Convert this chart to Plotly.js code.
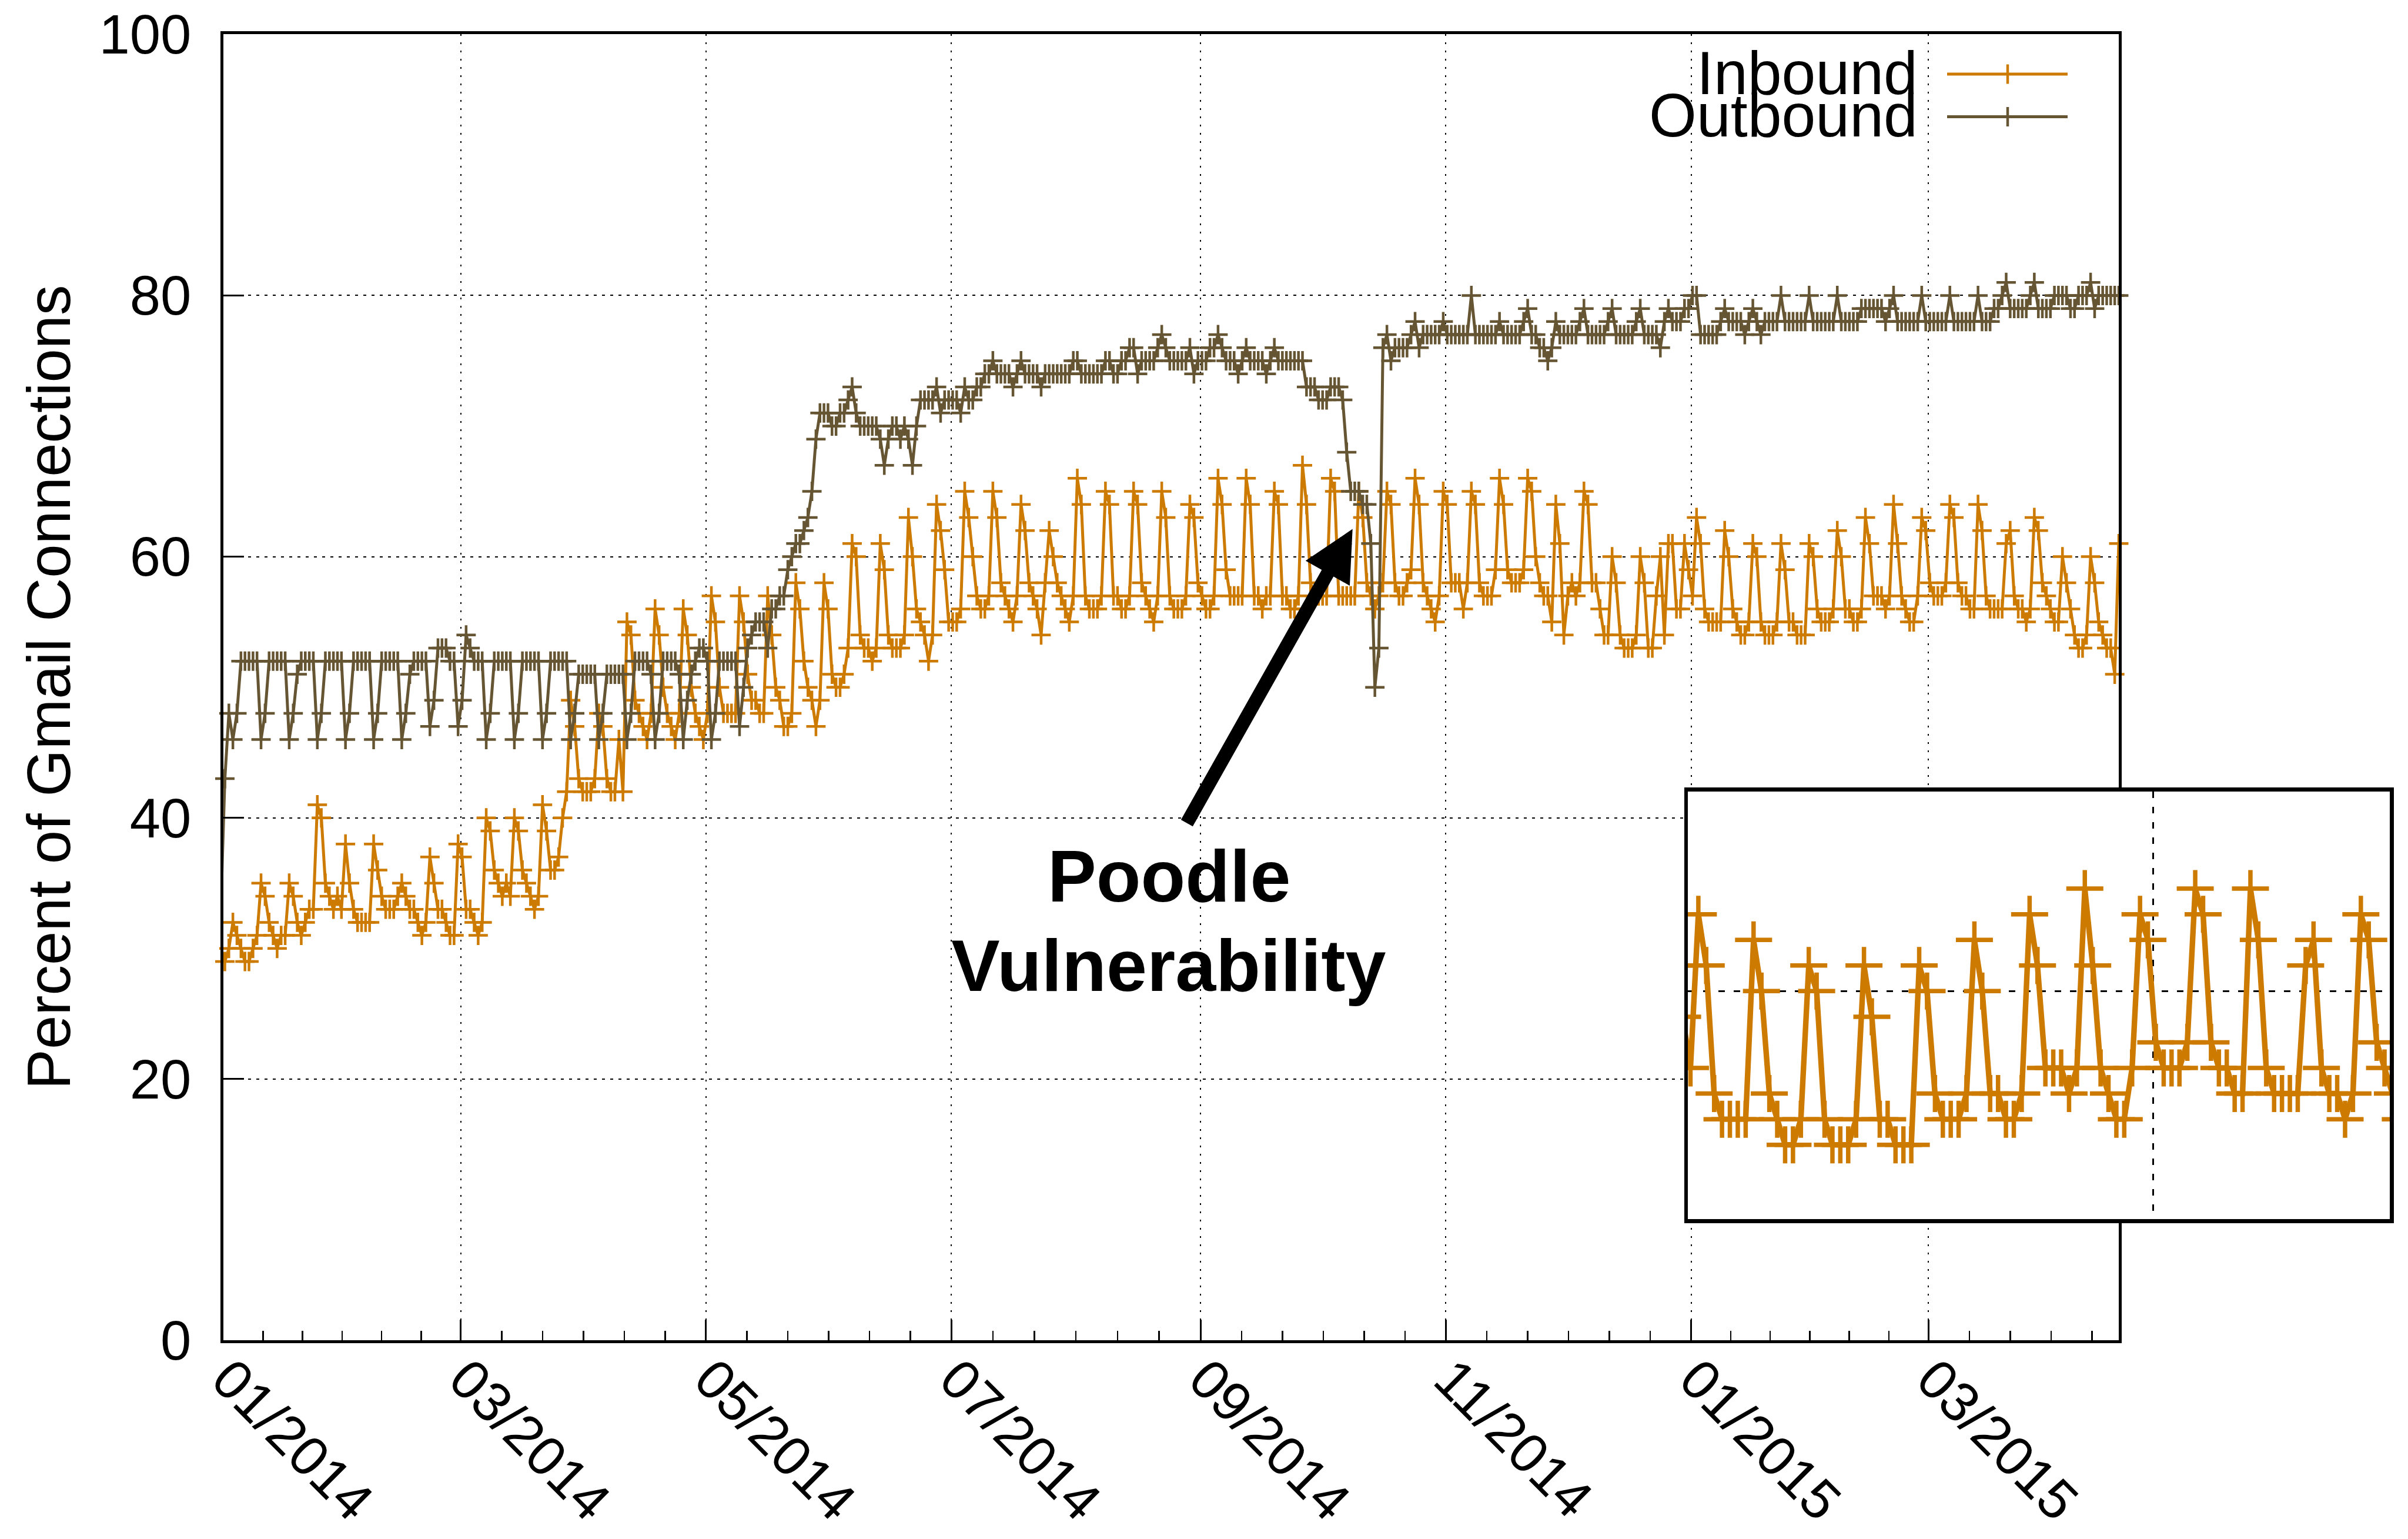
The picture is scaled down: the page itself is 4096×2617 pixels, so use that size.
<!DOCTYPE html>
<html><head><meta charset="utf-8">
<script src="https://cdn.plot.ly/plotly-3.0.1.min.js"></script>
<style>html,body{margin:0;padding:0;background:#fff;overflow:hidden}#chart{width:4096px;height:2617px}</style>
</head><body><div id="chart"></div>
<script>
// ---- data (one value per day, starting 2013-12-31, rows are weeks) ----
const firstSample = '2013-12-31T08:00:00Z';
const inboundWeeks = [
[30,29,30,32,31,30,29],[29,30,31,35,34,32,31],[30,31,31,35,34,32,31],[32,33,33,41,40,35,34],
[33,34,33,38,35,33,32],[32,32,32,38,36,34,33],[33,33,34,35,34,33,33],[32,31,32,37,35,33,33],
[32,31,31,38,37,33,33],[32,31,32,40,39,36,35],[34,35,34,40,39,36,35],[34,33,34,41,39,36,36],
[37,40,42,49,47,43,42],[42,42,43,48,47,43,42],[42,46,42,55,54,49,48],[47,46,48,56,54,50,48],
[47,46,48,56,54,50,48],[47,46,48,57,55,50,48],[48,48,48,57,55,51,49],[49,48,48,57,54,50,49],
[47,47,48,58,56,52,50],[49,47,49,58,56,51,50],[50,51,53,61,60,54,53],[53,52,53,61,59,54,53],
[53,53,54,63,60,56,55],[54,52,54,64,62,59,55],[55,55,56,65,63,60,57],[56,56,57,65,63,58,57],
[56,55,57,64,62,58,57],[56,54,58,62,60,58,57],[56,55,57,66,64,57,56],[56,56,57,65,64,57,57],
[56,56,57,65,64,58,57],[56,55,57,65,63,57,56],[56,56,57,64,63,58,57],[56,56,57,66,64,59,57],
[57,57,57,66,64,57,57],[56,57,57,65,64,57,57],[56,56,57,67,64,58,57],[57,57,57,66,65,57,57],
[57,57,57,65,63,58,57],[56,57,58,65,64,58,57],[57,58,59,66,64,58,57],[56,55,57,65,64,58,58],
[58,56,58,65,64,58,57],[57,57,59,66,64,59,58],[58,58,59,66,65,60,58],[57,57,55,64,61,54,57],
[58,57,58,65,64,58,58],[56,54,54,60,58,54,53],[53,53,54,60,58,53,53],[57,60,54,61,61,56,56],
[61,59,57,63,61,56,55],[55,55,55,62,60,56,55],[54,54,55,61,60,55,54],[54,54,55,61,59,55,55],
[54,54,54,61,60,56,55],[55,55,56,62,60,56,56],[55,55,56,63,61,57,57],[57,56,57,64,61,57,56],
[55,55,57,63,62,58,57],[57,57,58,64,63,58,57],[57,56,56,64,62,57,56],[56,56,56,61,62,57,56],
[56,55,56,63,62,58,57],[56,55,55,60,58,56,54],[53,53,54,60,58,55,54],[53,53,51,61]
];
const outboundWeeks = [
[33,43,48,46,48,52,52],[52,52,52,46,48,52,52],[52,52,52,46,48,51,52],[52,52,52,46,48,52,52],
[52,52,52,46,48,52,52],[52,52,52,46,48,52,52],[52,52,52,46,48,51,52],[52,52,52,47,49,53,53],
[53,52,52,47,49,54,53],[52,52,52,46,48,52,52],[52,52,52,46,48,52,52],[52,52,52,46,48,52,52],
[52,52,52,46,48,51,51],[51,51,51,46,48,51,51],[51,51,51,46,48,52,52],[52,52,51,46,48,52,52],
[52,52,51,46,49,51,52],[53,53,52,46,48,52,52],[52,52,52,47,50,53,54],[55,55,55,53,56,56,57],
[57,59,60,61,61,62,63],[65,69,71,71,71,70,70],[71,71,72,73,71,70,70],[70,70,70,69,67,69,70],
[70,69,70,69,67,70,72],[72,72,72,73,71,72,72],[72,72,71,73,72,72,73],[73,74,74,75,74,74,74],
[74,73,74,75,74,74,74],[74,73,74,74,74,74,74],[74,74,75,75,74,74,74],[74,74,74,75,75,74,74],
[75,75,76,76,74,75,75],[75,75,76,77,76,75,75],[75,75,75,76,74,75,75],[75,76,76,77,76,75,75],
[75,74,75,76,75,75,75],[75,74,75,76,75,75,75],[75,75,75,75,73,73,73],[72,72,72,73,73,73,72],
[68,65,65,65,64,64,61],[50,53,76,77,75,76,76],[76,76,77,78,76,77,77],[77,77,77,78,77,77,77],
[77,77,77,80,77,77,77],[77,77,77,78,77,77,77],[77,77,78,79,77,77,76],[76,75,76,78,77,77,77],
[77,77,78,79,77,77,77],[77,77,78,79,77,77,77],[77,77,78,79,77,77,77],[77,76,78,79,78,78,78],
[79,79,80,80,77,77,77],[77,77,78,79,78,78,78],[78,77,78,79,78,77,78],[78,78,78,80,78,78,78],
[78,78,78,80,78,78,78],[78,78,78,80,78,78,78],[78,78,79,79,79,79,79],[79,78,79,80,78,78,78],
[78,78,78,80,78,78,78],[78,78,78,80,78,78,78],[78,78,78,80,78,78,78],[79,79,80,81,79,79,79],
[79,79,80,81,79,79,79],[79,80,80,80,80,79,79],[80,80,80,81,79,80,80],[80,80,80,80]
];
const seriesNames = ['Inbound', 'Outbound'];
const tickDates = ['2014-01-01','2014-03-01','2014-05-01','2014-07-01','2014-09-01','2014-11-01','2015-01-01','2015-03-01'];
const tickLabels = ['01/2014','03/2014','05/2014','07/2014','09/2014','11/2014','01/2015','03/2015'];
const yTicks = [0, 20, 40, 60, 80, 100];
const yTitle = 'Percent of Gmail Connections';
const noteLines = ['Poodle', 'Vulnerability'];
const insetRange = ['2015-01-01', '2015-03-31'];

// ---- build ----
const inbound = inboundWeeks.flat();
const outbound = outboundWeeks.flat();
const DAY = 86400000;
const fmt = ms => new Date(ms).toISOString().slice(0, 16).replace('T', ' ');
const t0 = Date.parse(firstSample);
const dates = inbound.map((_, i) => fmt(t0 + i * DAY));
const lastDate = dates[dates.length - 1];

const majorsExt = tickDates.concat(['2015-05-01']);
const minorVals = [];
for (let k = 0; k < majorsExt.length - 1; k++) {
  const a = Date.parse(majorsExt[k] + 'T00:00:00Z'), b = Date.parse(majorsExt[k + 1] + 'T00:00:00Z');
  for (let m = 1; m < 6; m++) minorVals.push(fmt(a + (b - a) * m / 6));
}

const W = 4096, H = 2617;
const FONT = 'Liberation Sans, Arial, Helvetica, sans-serif';
const inColor = '#cc7a00', outColor = '#665533';
const plotL = 380.2, plotR = 3604, plotT = 58.3, plotB = 2279;
const insL = 2871, insR = 4065, insT = 1345.6, insB = 2073;
const px = v => v / W, py = v => 1 - v / H;

const mk = (c, s, w) => ({symbol: 'cross-thin', size: s, color: c, line: {color: c, width: w}});
const traces = [
  {x: dates, y: inbound, name: seriesNames[0], type: 'scatter', mode: 'lines+markers',
   line: {color: inColor, width: 5}, marker: mk(inColor, 23.5, 4.5), cliponaxis: false, hoverinfo: 'skip'},
  {x: dates, y: outbound, name: seriesNames[1], type: 'scatter', mode: 'lines+markers',
   line: {color: outColor, width: 5}, marker: mk(outColor, 23.5, 4.5), cliponaxis: false, hoverinfo: 'skip'},
  {x: dates, y: inbound, name: seriesNames[0] + ' (detail)', type: 'scatter', mode: 'lines+markers',
   xaxis: 'x2', yaxis: 'y2', line: {color: inColor, width: 9.4}, marker: mk(inColor, 45, 7.5), hoverinfo: 'skip'}
];

// legend (text left, sample right, as in the original)
const legY = [126, 198.5];
const legTextY = [124, 195.7];
const shapes = [];
const annotations = [];
[inColor, outColor].forEach((c, k) => {
  shapes.push({type: 'line', xref: 'paper', yref: 'paper', x0: px(3312), x1: px(3517), y0: py(legY[k]), y1: py(legY[k]), line: {color: c, width: 5}});
  shapes.push({type: 'line', xref: 'paper', yref: 'paper', x0: px(3415), x1: px(3415), y0: py(legY[k] - 16.5), y1: py(legY[k] + 16.5), line: {color: c, width: 4.5}});
  annotations.push({xref: 'paper', yref: 'paper', x: px(3264), y: py(legTextY[k]), xanchor: 'right', yanchor: 'middle',
    text: seriesNames[k], showarrow: false, font: {family: FONT, size: 104, color: '#000'}});
});
annotations.push({xref: 'paper', yref: 'paper', x: px(1988), y: py(1490), xanchor: 'center', yanchor: 'middle',
  text: '<b>' + noteLines[0] + '</b>', showarrow: false, font: {family: FONT, size: 124, color: '#000'}});
annotations.push({xref: 'paper', yref: 'paper', x: px(1988), y: py(1641.6), xanchor: 'center', yanchor: 'middle',
  text: '<b>' + noteLines[1] + '</b>', showarrow: false, font: {family: FONT, size: 124, color: '#000'}});
annotations.push({xref: 'paper', yref: 'paper', x: px(2300.7), y: py(899.6), ax: -283, ay: 502, axref: 'pixel', ayref: 'pixel',
  text: ' ', showarrow: true, arrowhead: 2, arrowsize: 0.75, arrowwidth: 23, arrowcolor: '#000', standoff: 0, startstandoff: 0,
  font: {size: 1}});

const layout = {
  width: W, height: H, margin: {l: 0, r: 0, t: 0, b: 0},
  paper_bgcolor: '#fff', plot_bgcolor: '#fff', showlegend: false,
  font: {family: FONT, color: '#000'},
  xaxis: {domain: [px(plotL), px(plotR)], type: 'date', range: ['2014-01-01 00:00', lastDate],
    tickmode: 'array', tickvals: tickDates, ticktext: tickLabels, tickangle: 45,
    ticks: 'inside', ticklen: 35, tickwidth: 3, tickcolor: '#000', tickfont: {family: FONT, size: 94},
    ticklabelstandoff: -32, ticklabelshift: 8,
    showline: true, mirror: true, linewidth: 5, linecolor: '#000',
    showgrid: true, gridcolor: '#000', gridwidth: 2, griddash: '3px,11px', zeroline: false,
    minor: {tickmode: 'array', tickvals: minorVals, ticks: 'inside', ticklen: 16, tickwidth: 2.5, tickcolor: '#000', showgrid: false},
    automargin: false, fixedrange: true},
  yaxis: {domain: [py(plotB), py(plotT)], range: [0, 100], tickmode: 'array', tickvals: yTicks,
    ticks: 'inside', ticklen: 35, tickwidth: 3, tickcolor: '#000', tickfont: {family: FONT, size: 94},
    ticklabelstandoff: 31,
    showline: true, mirror: true, linewidth: 5, linecolor: '#000',
    showgrid: true, gridcolor: '#000', gridwidth: 2, griddash: '5px,9px', zeroline: false,
    title: {text: yTitle, font: {family: FONT, size: 103, color: '#000'}, standoff: 16},
    automargin: false, fixedrange: true},
  xaxis2: {domain: [px(insL), px(insR)], anchor: 'y2', type: 'date', range: insetRange,
    tickmode: 'array', tickvals: [insetRange[0], '2015-03-01'], showticklabels: false, ticks: '',
    showline: true, mirror: true, linewidth: 6.5, linecolor: '#000',
    showgrid: true, gridcolor: '#000', gridwidth: 3, griddash: '11px,15px', zeroline: false, fixedrange: true},
  yaxis2: {domain: [py(insB), py(insT)], anchor: 'x2', range: [51.1, 67.8],
    tickmode: 'array', tickvals: yTicks, showticklabels: false, ticks: '',
    showline: true, mirror: true, linewidth: 6.5, linecolor: '#000',
    showgrid: true, gridcolor: '#000', gridwidth: 3, griddash: '11px,15px', zeroline: false, fixedrange: true},
  shapes: shapes,
  annotations: annotations
};

Plotly.newPlot('chart', traces, layout, {staticPlot: true, displayModeBar: false});
</script>
</body></html>
